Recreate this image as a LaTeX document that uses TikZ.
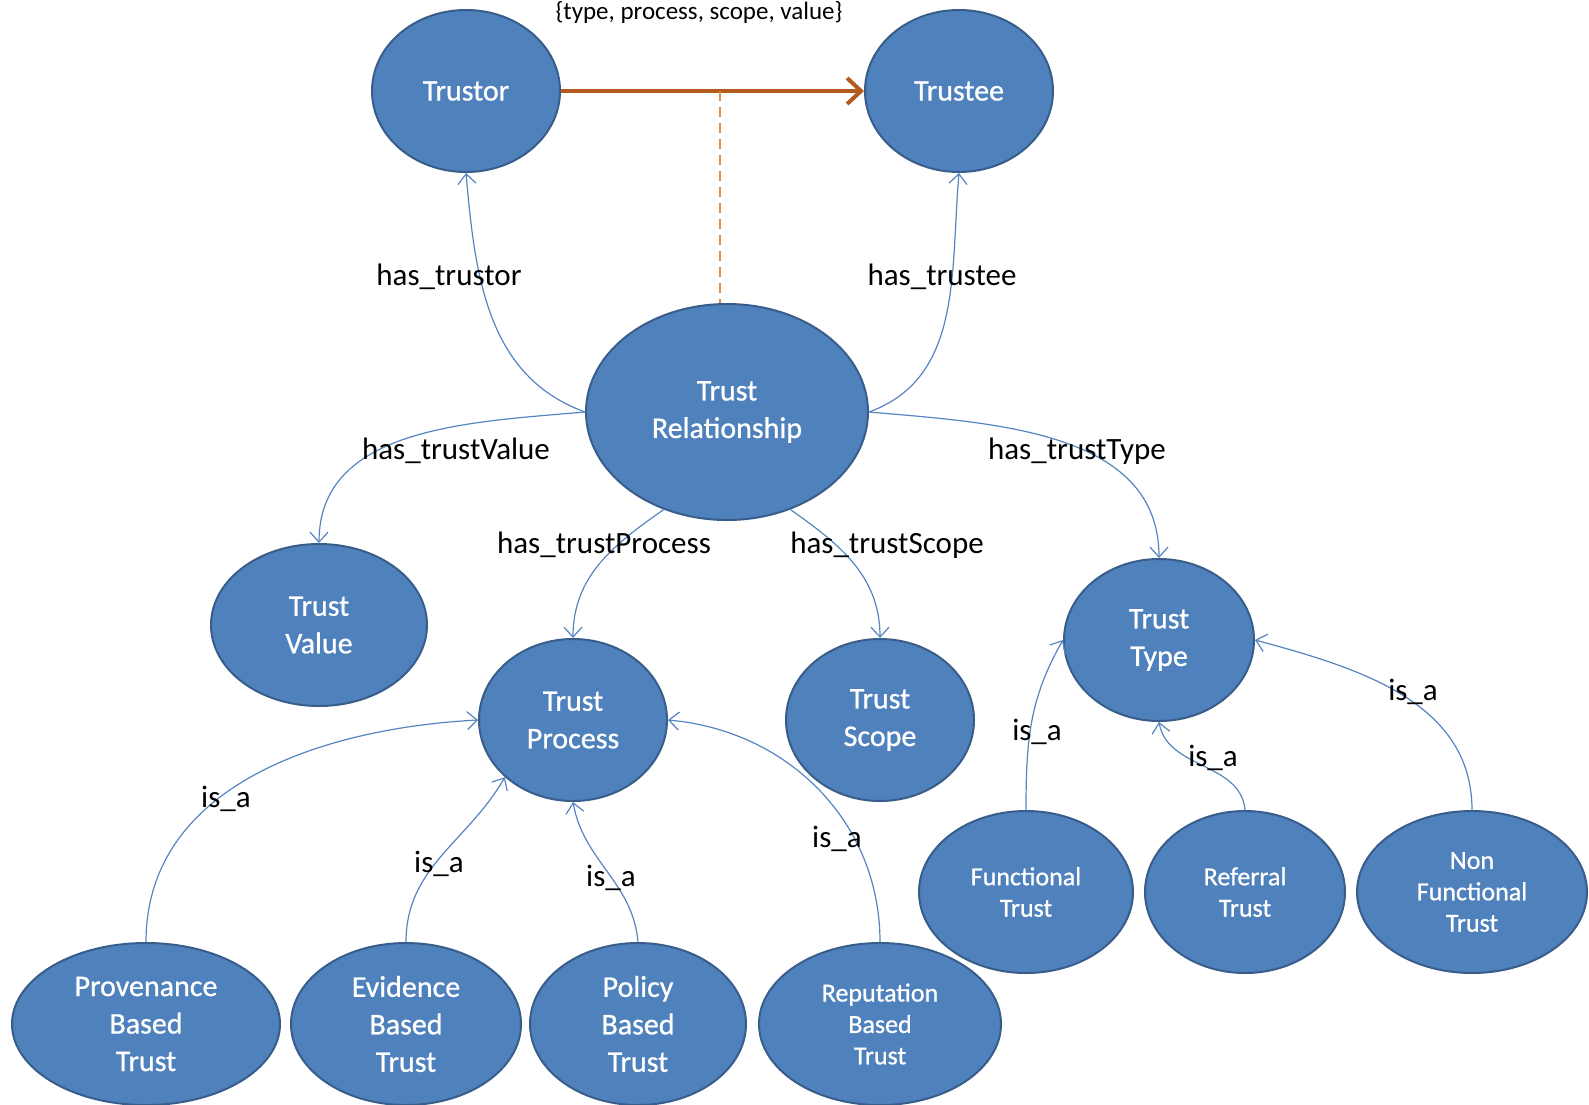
\documentclass[tikz,border=0pt]{standalone}
\usepackage{fontspec}
\setmainfont{Carlito}
\newfontfamily\nodefont[FakeBold=0.8]{Carlito}
\usetikzlibrary{shapes.geometric,arrows.meta}
\definecolor{nodefill}{HTML}{4F81BD}
\definecolor{nodedraw}{HTML}{385D8A}
\definecolor{linkcol}{HTML}{5585C0}
\definecolor{brownarrow}{HTML}{B35A1F}
\definecolor{dashcol}{HTML}{E08A4A}
\begin{document}
\begin{tikzpicture}[x=0.5pt,y=-0.5pt,
  concept/.style={ellipse,fill=nodefill,draw=nodedraw,line width=1pt,text=white,inner sep=0pt,align=center,font=\nodefont\fontsize{15}{18.75}\selectfont},
  smalltext/.style={font=\nodefont\fontsize{13}{15.7}\selectfont},
  link/.style={draw=linkcol,line width=0.6pt,-{Straight Barb[length=5pt,width=9pt]}},
  lbl/.style={font=\fontsize{15.5}{18}\selectfont,text=black,inner sep=0pt}]
\useasboundingbox (0,0) rectangle (1589,1104);

% nodes
\node[concept,minimum width=94pt,minimum height=81pt] (trustor) at (466,91) {Trustor};
\node[concept,minimum width=94pt,minimum height=81pt] (trustee) at (959,91) {Trustee};
\node[concept,minimum width=141pt,minimum height=108pt] (rel) at (727,412) {Trust\\Relationship};
\node[concept,minimum width=108pt,minimum height=81pt] (tval) at (319,625) {Trust\\Value};
\node[concept,minimum width=94pt,minimum height=81pt] (tproc) at (573,720) {Trust\\Process};
\node[concept,minimum width=94pt,minimum height=81pt] (tscope) at (880,720) {Trust\\Scope};
\node[concept,minimum width=95pt,minimum height=81pt] (ttype) at (1159,640) {Trust\\Type};
\node[concept,smalltext,minimum width=107pt,minimum height=81pt] (func) at (1026,892) {Functional\\Trust};
\node[concept,smalltext,minimum width=100pt,minimum height=81pt] (ref) at (1245,892) {Referral\\Trust};
\node[concept,smalltext,minimum width=115pt,minimum height=81pt] (nonf) at (1472,892) {Non\\Functional\\Trust};
\node[concept,minimum width=134pt,minimum height=81pt] (prov) at (146,1024) {Provenance\\Based\\Trust};
\node[concept,minimum width=115pt,minimum height=81pt] (evid) at (406,1024) {Evidence\\Based\\Trust};
\node[concept,minimum width=108pt,minimum height=81pt] (pol) at (638,1024) {Policy\\Based\\Trust};
\node[concept,smalltext,minimum width=121pt,minimum height=81pt] (rep) at (880,1024) {Reputation\\Based\\Trust};

% top relation
\node[font=\fontsize{12.5}{14}\selectfont,inner sep=0pt] (attr) at (699,12) {\{type, process, scope, value\}};
\draw[brownarrow,line width=2pt,-{Straight Barb[length=7pt,width=13pt,line width=2pt]}] (trustor.east) -- (trustee.west);
\coordinate (mid) at (720,91);
\draw[dashcol,line width=0.7pt,dash pattern=on 5pt off 3pt] (mid) -- (mid |- rel.north);

% relation links
\draw[link] (rel.west) to[out=160,in=-85] (trustor.south);
\draw[link] (rel.east) to[out=20,in=-95] (trustee.south);
\draw[link] (rel.west) to[out=185,in=90] (tval.north);
\draw[link] (rel.east) to[out=-5,in=90] (ttype.north);
\draw[link] (rel.237) to[out=215,in=90] (tproc.north);
\draw[link] (rel.303) to[out=-35,in=90] (tscope.north);

% is_a links
\draw[link] (prov.north) to[out=90,in=183] (tproc.west);
\draw[link] (evid.north) to[out=90,in=-120] (tproc.220);
\draw[link] (pol.north) to[out=95,in=-80] (tproc.south);
\draw[link] (rep.north) to[out=90,in=-5] (tproc.east);
\draw[link] (func.north) to[out=90,in=-120] (ttype.west);
\draw[link] (ref.north) to[out=95,in=-80] (ttype.south);
\draw[link] (nonf.north) to[out=90,in=-15] (ttype.east);

% labels
\node[lbl] (l1) at (449,277) {has\_trustor};
\node[lbl] (l2) at (942,277) {has\_trustee};
\node[lbl] (l3) at (456,451) {has\_trustValue};
\node[lbl] (l4) at (1077,451) {has\_trustType};
\node[lbl] (l5) at (604,545) {has\_trustProcess};
\node[lbl] (l6) at (887,545) {has\_trustScope};
\node[lbl] (l7) at (226,799) {is\_a};
\node[lbl] (l8) at (439,864) {is\_a};
\node[lbl] (l9) at (611,878) {is\_a};
\node[lbl] (l10) at (837,839) {is\_a};
\node[lbl] (l11) at (1037,732) {is\_a};
\node[lbl] (l12) at (1213,758) {is\_a};
\node[lbl] (l13) at (1413,692) {is\_a};
\end{tikzpicture}
\end{document}
